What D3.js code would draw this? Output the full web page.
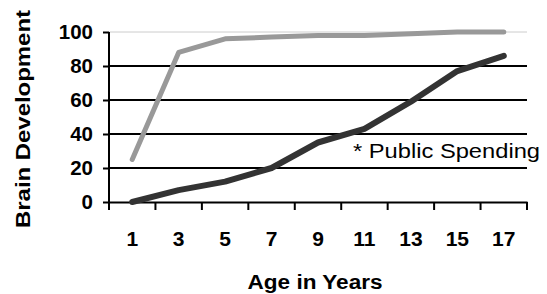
<!DOCTYPE html>
<html>
<head>
<meta charset="utf-8">
<script src="https://cdn.jsdelivr.net/npm/d3@7"></script>
<style>
  body { margin: 0; background: #fff; }
  text { font-family: Arial, "Liberation Sans", sans-serif; }
</style>
</head>
<body>
<script>
// ages on the category axis
const ages = [1, 3, 5, 7, 9, 11, 13, 15, 17];
// brain development (grey line)
const brainDev = [25, 88, 96, 97, 98, 98, 99, 100, 100];
// public spending (dark line)
const publicSpending = [0, 7, 12, 20, 35, 43, 59, 77, 86];
const yTicks = [0, 20, 40, 60, 80, 100];

let appendSVG = (width, height) => {
    return d3.select('body')
        .append('svg')
        .attr('width', width)
        .attr('height', height)
}

let main = () => {
    const svg = appendSVG(547, 294);
    const left = 109, right = 527, top = 32, bottom = 202;

    const x = d3.scaleBand().domain(ages).range([left, right]).padding(0);
    const y = d3.scaleLinear().domain([0, 100]).range([bottom, top]);
    const cx = d => x(d) + x.bandwidth() / 2;

    // gridlines
    svg.selectAll('line.grid')
        .data(yTicks.filter(t => t > 0))
        .enter()
        .append('line')
        .attr('class', 'grid')
        .attr('x1', left).attr('x2', right)
        .attr('y1', d => y(d)).attr('y2', d => y(d))
        .attr('stroke', d => d === 100 ? '#ccc' : '#000')
        .attr('stroke-width', d => d === 100 ? 1 : 2)

    // y axis
    const yAxis = svg.append('g')
        .attr('transform', `translate(${left},0)`)
        .call(d3.axisLeft(y).tickValues(yTicks).tickSize(6).tickSizeOuter(0).tickPadding(10));
    yAxis.select('.domain').attr('stroke', '#000').attr('stroke-width', 2)
        .attr('d', `M0,${top}V${bottom + 8}`);
    yAxis.selectAll('.tick line').attr('stroke-width', 2);
    yAxis.selectAll('text')
        .attr('font-size', 20.5).attr('font-weight', 'bold').attr('fill', '#000')
        .attr('font-family', 'Arial, "Liberation Sans", sans-serif');

    // x axis
    const xAxis = svg.append('g')
        .attr('transform', `translate(0,${bottom})`)
        .call(d3.axisBottom(x).tickSize(0).tickSizeOuter(0).tickPadding(29));
    xAxis.select('.domain').attr('stroke', '#000').attr('stroke-width', 2);
    xAxis.selectAll('text')
        .attr('font-size', 21).attr('font-weight', 'bold').attr('fill', '#000')
        .attr('font-family', 'Arial, "Liberation Sans", sans-serif');

    // x ticks between categories
    const bounds = ages.map(a => x(a)).concat([right]);
    xAxis.selectAll('line.sep')
        .data(bounds)
        .enter()
        .append('line')
        .attr('class', 'sep')
        .attr('x1', d => d).attr('x2', d => d)
        .attr('y1', 0).attr('y2', 8)
        .attr('stroke', '#000')
        .attr('stroke-width', 2)

    // lines
    const line = d3.line().x(d => cx(d.age)).y(d => y(d.v));
    const drawSeries = (vals, color, width) => {
        svg.append('path')
            .datum(ages.map((a, i) => ({ age: a, v: vals[i] })))
            .attr('d', line)
            .attr('fill', 'none')
            .attr('stroke', color)
            .attr('stroke-width', width)
            .attr('stroke-linecap', 'round')
            .attr('stroke-linejoin', 'round')
    }
    drawSeries(brainDev, '#999', 5);
    drawSeries(publicSpending, '#333', 6);

    // annotation
    svg.append('text')
        .attr('x', 353).attr('y', 158)
        .attr('font-size', 20)
        .attr('textLength', 187).attr('lengthAdjust', 'spacingAndGlyphs')
        .text('* Public Spending')

    // axis titles
    svg.append('text')
        .attr('x', 315).attr('y', 289)
        .attr('text-anchor', 'middle')
        .attr('font-size', 20).attr('font-weight', 'bold')
        .attr('textLength', 135).attr('lengthAdjust', 'spacingAndGlyphs')
        .text('Age in Years')

    svg.append('text')
        .attr('transform', 'translate(30,119) rotate(-90)')
        .attr('text-anchor', 'middle')
        .attr('font-size', 20).attr('font-weight', 'bold')
        .attr('textLength', 218).attr('lengthAdjust', 'spacingAndGlyphs')
        .text('Brain Development')
}

main()
</script>
</body>
</html>
